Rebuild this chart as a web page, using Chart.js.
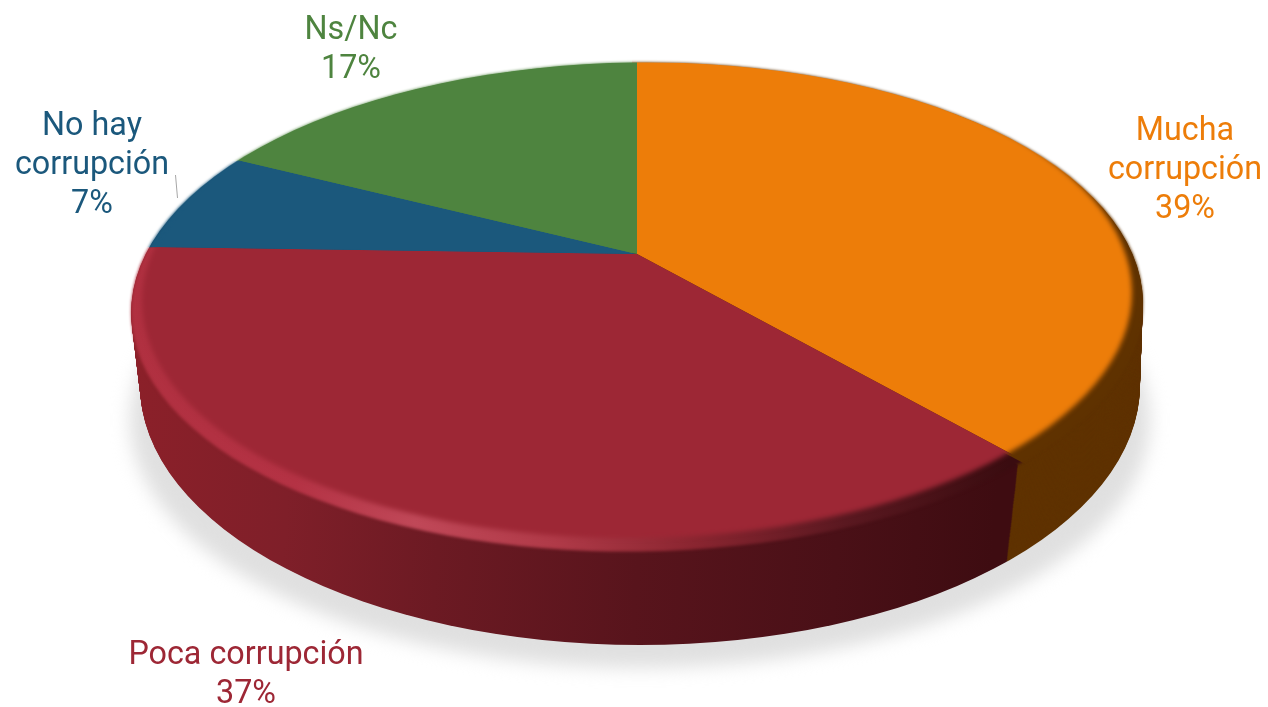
<!DOCTYPE html>
<html>
<head>
<meta charset="utf-8">
<style>
  html, body { margin: 0; background: #fff; }
  canvas { display: block; }
</style>
<script src="https://cdn.jsdelivr.net/npm/chart.js@4"></script>
</head>
<body>
<canvas id="myChart" width="1268" height="707"></canvas>
<script>
const categories = ["Mucha corrupción", "Poca corrupción", "No hay corrupción", "Ns/Nc"];
const values = [39, 37, 7, 17];
const faceColors = ["#ed7d09", "#9d2735", "#1b587c", "#4e843f"];

// label lines and where they sit on the page
const labelLines = [["Mucha", "corrupción"], ["Poca corrupción"], ["No hay", "corrupción"], ["Ns/Nc"]];
const labelSpots = [[1185, 132], [246, 656], [92, 127], [351, 31]];
const labelFont = '32.3px Roboto';
const lineStep = 39;

// picture geometry: the tilted disc, with its apex off-centre because of the perspective
const apex = { x: 637, y: 254, scale: 2, skew: -0.0142, squash: 0.4535 };
const rimTop = { x: 637, y: 307, rx: 506, ry: 244.5, tilt: -0.012 };
const rimBottom = { x: 640, y: 385, rx: 500, ry: 260, tilt: 0 };
const faceInner = { x: 637, y: 297, rx: 495, ry: 241, tilt: -0.012 };
const depth = 100;
const wallShift = -12;
const rimShift = -5;
const drift = -0.06;

function mapDisc(ctx, arc, dx, dy) {
  ctx.translate(apex.x + dx, apex.y + dy);
  ctx.transform(apex.scale, apex.scale * apex.skew, 0, apex.scale * apex.squash, 0, 0);
  ctx.translate(-arc.x, -arc.y);
}

function ellipsePath(ctx, e) {
  ctx.beginPath();
  ctx.ellipse(e.x, e.y, e.rx, e.ry, e.tilt || 0, 0, Math.PI * 2);
}

// horizontal gradient given in page x, built in the disc's own coordinates
function sideGradient(ctx, arc, stops) {
  const toDisc = x => arc.x + (x - apex.x) / apex.scale;
  const g = ctx.createLinearGradient(toDisc(stops[0][0]), 0, toDisc(stops[stops.length - 1][0]), 0);
  const span = stops[stops.length - 1][0] - stops[0][0];
  stops.forEach(s => g.addColorStop((s[0] - stops[0][0]) / span, s[1]));
  return g;
}

function paintSlices(ctx, arcs, colors) {
  arcs.forEach((arc, i) => {
    const saved = arc.options;
    arc.options = Object.assign({}, saved, { backgroundColor: colors[i] });
    arc.draw(ctx);
    arc.options = saved;
  });
}

// slices on their own layer, cut out by a soft-edged ellipse
function softLayer(chart, arcs, colors, mask, blur, dx) {
  const layer = document.createElement("canvas");
  layer.width = chart.width;
  layer.height = chart.height;
  const lc = layer.getContext("2d");
  lc.save();
  mapDisc(lc, arcs[0], dx, 0);
  paintSlices(lc, arcs, colors(lc));
  lc.restore();
  lc.globalCompositeOperation = "destination-in";
  lc.filter = "blur(" + blur + "px)";
  lc.fillStyle = "#000";
  ellipsePath(lc, mask);
  lc.fill();
  return layer;
}

const disc3d = {
  id: "disc3d",
  beforeDatasetsDraw(chart) {
    const ctx = chart.ctx;
    const arcs = chart.getDatasetMeta(0).data;
    const first = arcs[0];

    // soft shadow on the page, only the lower part shows past the disc
    ctx.save();
    ctx.filter = "blur(9px)";
    ctx.fillStyle = "#e0e0e0";
    ellipsePath(ctx, { x: 640, y: 420, rx: 510, ry: 248 });
    ctx.fill();
    ctx.restore();

    // side wall: the same slices stacked from the bottom rim upwards
    const redSide = sideGradient(ctx, first, [[140, "#8c2029"], [300, "#7f1f29"], [450, "#6c1a23"],
      [650, "#58141c"], [850, "#4a1017"], [1010, "#3e0c11"]]);
    const wallColors = ["#5f3200", redSide, "#154562", "#3c6630"];
    for (let t = depth; t >= 1; t--) {
      const f = t / depth;
      ctx.save();
      ellipsePath(ctx, {
        x: rimTop.x + (rimBottom.x - rimTop.x) * f,
        y: rimTop.y + (rimBottom.y - rimTop.y) * f,
        rx: rimTop.rx + (rimBottom.rx - rimTop.rx) * f,
        ry: rimTop.ry + (rimBottom.ry - rimTop.ry) * f,
        tilt: rimTop.tilt * (1 - f)
      });
      ctx.clip();
      mapDisc(ctx, first, wallShift + drift * t, t);
      paintSlices(ctx, arcs, wallColors);
      ctx.restore();
    }

    // bevel: slices in rim colours, soft towards the wall
    const rimLayer = softLayer(chart, arcs, lc => ["#5f3200", sideGradient(lc, first, [[132, "#b03040"],
      [300, "#b43244"], [420, "#c04858"], [560, "#b03a48"], [700, "#8a2530"], [850, "#5a1820"],
      [1014, "#3a0c10"]]), faceColors[2], faceColors[3]], rimTop, 1.5, rimShift);
    ctx.drawImage(rimLayer, 0, 0);

    // flat face, sharp on the far edge where it meets the white page
    const faceLayer = softLayer(chart, arcs, () => faceColors, faceInner, 2.5, 0);
    ctx.save();
    ellipsePath(ctx, rimTop);
    ctx.clip();
    ctx.drawImage(faceLayer, 0, 0);
    ctx.restore();
    return false;
  },
  afterDraw(chart) {
    const ctx = chart.ctx;
    ctx.save();
    ctx.strokeStyle = "#a6a6a6";
    ctx.lineWidth = 1;
    ctx.beginPath();
    ctx.moveTo(175.5, 175);
    ctx.lineTo(177.5, 198);
    ctx.stroke();

    ctx.font = labelFont;
    ctx.textAlign = "center";
    ctx.textBaseline = "middle";
    categories.forEach((c, i) => {
      ctx.fillStyle = faceColors[i];
      const lines = labelLines[i].concat(values[i] + "%");
      lines.forEach((line, n) => {
        ctx.fillText(line, labelSpots[i][0], labelSpots[i][1] + n * lineStep);
      });
    });
    ctx.restore();
  }
};

new Chart(document.getElementById("myChart").getContext("2d"), {
  type: "pie",
  data: {
    labels: categories,
    datasets: [{ data: values, backgroundColor: faceColors, borderWidth: 0 }]
  },
  options: {
    responsive: false,
    animation: false,
    plugins: { legend: { display: false }, tooltip: { enabled: false } }
  },
  plugins: [disc3d]
});
</script>
</body>
</html>
